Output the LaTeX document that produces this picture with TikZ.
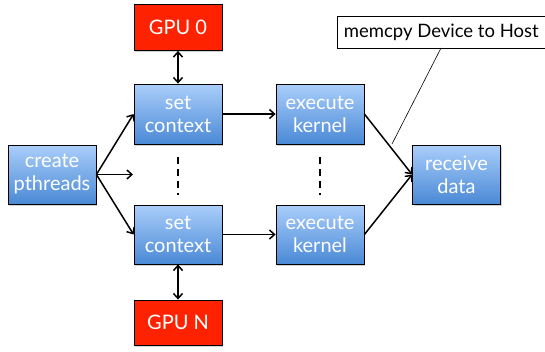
\documentclass[tikz,border=0pt]{standalone}
\usepackage{fontspec}
\setmainfont{Lato}
\usetikzlibrary{arrows.meta,shadows}
\definecolor{blueTop}{HTML}{AACEFA}
\definecolor{blueBot}{HTML}{4A89D6}
\definecolor{gpuRed}{HTML}{FF2200}
\tikzset{
  bluebox/.style={draw=black, line width=0.8pt, top color=blueTop, bottom color=blueBot,
    minimum width=88pt, minimum height=60pt, inner sep=0pt, align=center, text=white,
    font=\fontsize{20}{23}\selectfont,
    drop shadow={shadow xshift=1pt, shadow yshift=-1.5pt, opacity=0.35, fill=gray}},
  redbox/.style={draw=black, line width=0.8pt, fill=gpuRed, minimum width=88pt,
    minimum height=46pt, inner sep=0pt, text=white, font=\fontsize{20}{23}\selectfont,
    drop shadow={shadow xshift=1pt, shadow yshift=-1.5pt, opacity=0.35, fill=gray}},
  flow/.style={line width=1.5pt, -{Straight Barb[length=5pt,width=9pt]}},
  both/.style={line width=1.5pt, {Straight Barb[length=5pt,width=9pt]}-{Straight Barb[length=5pt,width=9pt]}},
  dots/.style={line width=1.5pt, dash pattern=on 7pt off 5pt},
  notebox/.style={draw=black, line width=0.6pt, fill=white, minimum height=32pt,
    inner xsep=7pt, font=\fontsize{18.5}{22}\selectfont}
}
\begin{document}
\begin{tikzpicture}[x=1pt,y=-1pt]
\useasboundingbox (0,0) rectangle (545,351);
\node[redbox] (gpu0) at (178,27.5) {GPU 0};
\node[bluebox] (set1) at (178,114) {set\\context};
\node[bluebox] (exe1) at (320,114) {execute\\kernel};
\node[bluebox, minimum height=59pt] (create) at (52,174.5) {create\\pthreads};
\node[bluebox, minimum height=59pt] (recv) at (456.5,174.5) {receive\\data};
\node[bluebox, minimum height=59pt] (set2) at (178,234.5) {set\\context};
\node[bluebox, minimum height=59pt] (exe2) at (320,234.5) {execute\\kernel};
\node[redbox, minimum height=45pt] (gpuN) at (178,322.5) {GPU N};
\node[notebox, anchor=west] (memcpy) at (336.5,32) {memcpy Device to Host};

\coordinate (mid) at (133,174.5);
\coordinate (d1a) at (178,157);
\coordinate (d1b) at (178,195);
\coordinate (d2a) at (320,157);
\coordinate (d2b) at (320,195);
\coordinate (note1) at (441,48);
\coordinate (note2) at (392,144);

\draw[both] (gpu0) -- (set1);
\draw[both] (set2) -- (gpuN);
\draw[flow] (create.east) -- (set1.west);
\draw[flow] (create.east) -- (mid);
\draw[flow] (create.east) -- (set2.west);
\draw[flow] (set1) -- (exe1);
\draw[flow] (set2) -- (exe2);
\draw[flow] (exe1.east) -- (recv.west);
\draw[flow] (exe2.east) -- (recv.west);
\draw[dots] (d1a) -- (d1b);
\draw[dots] (d2a) -- (d2b);
\draw[line width=0.6pt] (note1) -- (note2);
\end{tikzpicture}
\end{document}
